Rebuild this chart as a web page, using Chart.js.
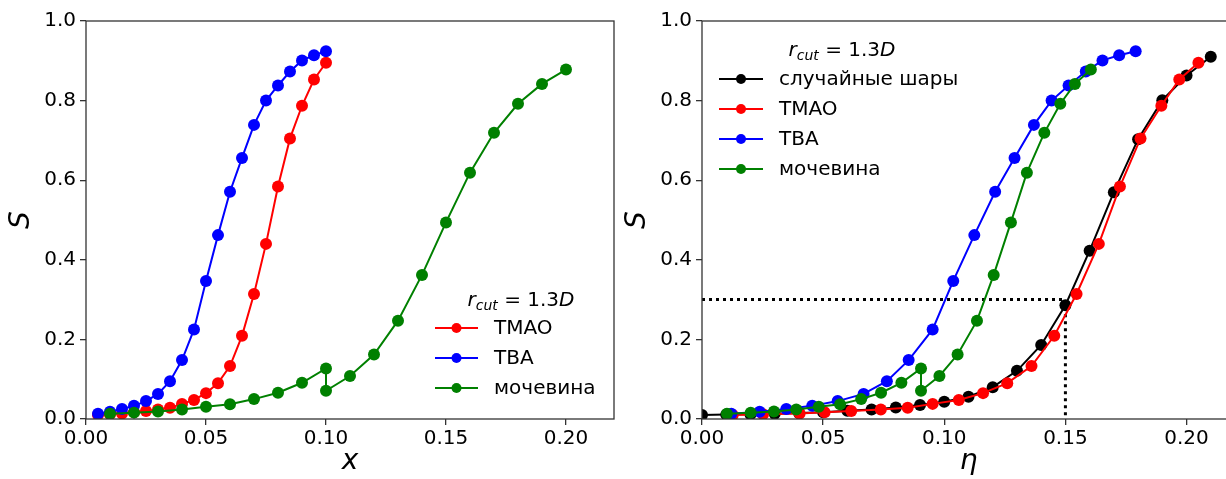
<!DOCTYPE html>
<html lang="ru">
<head>
<meta charset="UTF-8">
<script src="https://cdn.jsdelivr.net/npm/chart.js"></script>
<style>
  html, body { margin: 0; padding: 0; background: #fff; overflow: hidden; }
  body { width: 1226px; height: 479px; position: relative; }
  .panel { position: absolute; top: 0; height: 479px; }
  #leftPanel { left: 0; }
  #rightPanel { left: 616px; }
</style>
</head>
<body>
<div class="panel" id="leftPanel"><canvas id="leftChart" width="620" height="479"></canvas></div>
<div class="panel" id="rightPanel"><canvas id="rightChart" width="625" height="479"></canvas></div>

<script>
// axis ticks
const xTicks = [0, 0.05, 0.10, 0.15, 0.20];
const yTicks = [0, 0.2, 0.4, 0.6, 0.8, 1.0];

// S versus concentration x
const tmaoX = [0.005, 0.01, 0.015, 0.02, 0.025, 0.03, 0.035, 0.04, 0.045, 0.05,
               0.055, 0.06, 0.065, 0.07, 0.075, 0.08, 0.085, 0.09, 0.095, 0.10];
const tmaoS = [0.010, 0.012, 0.014, 0.017, 0.020, 0.024, 0.028, 0.038, 0.048, 0.065,
               0.090, 0.133, 0.209, 0.314, 0.440, 0.584, 0.705, 0.787, 0.853, 0.895];

const tbaX = [0.005, 0.01, 0.015, 0.02, 0.025, 0.03, 0.035, 0.04, 0.045, 0.05,
              0.055, 0.06, 0.065, 0.07, 0.075, 0.08, 0.085, 0.09, 0.095, 0.10];
const tbaS = [0.013, 0.018, 0.025, 0.033, 0.045, 0.063, 0.095, 0.148, 0.225, 0.347,
              0.462, 0.571, 0.656, 0.739, 0.800, 0.838, 0.873, 0.901, 0.914, 0.924];

const ureaX = [0.01, 0.02, 0.03, 0.04, 0.05, 0.06, 0.07, 0.08, 0.09, 0.10, 0.10,
               0.11, 0.12, 0.13, 0.14, 0.15, 0.16, 0.17, 0.18, 0.19, 0.20];
const ureaS = [0.013, 0.016, 0.019, 0.024, 0.031, 0.037, 0.050, 0.066, 0.091, 0.127, 0.071,
               0.108, 0.162, 0.247, 0.362, 0.494, 0.619, 0.719, 0.792, 0.842, 0.878];

// same S values against packing fraction eta
const tmaoEta = [0.0127, 0.0252, 0.0403, 0.0506, 0.0616, 0.0738, 0.0849, 0.0952, 0.106, 0.116,
                 0.126, 0.136, 0.1454, 0.1546, 0.1638, 0.1725, 0.181, 0.1896, 0.197, 0.2049];
const tbaEta = [0.0121, 0.0238, 0.0348, 0.0455, 0.056, 0.0667, 0.0763, 0.0853, 0.0952, 0.1037,
                0.1124, 0.121, 0.129, 0.137, 0.1443, 0.1513, 0.1584, 0.1653, 0.1722, 0.179];
const ureaEta = [0.0103, 0.0201, 0.0297, 0.0389, 0.0482, 0.057, 0.0657, 0.0739, 0.0823, 0.0904, 0.0904,
                 0.098, 0.1055, 0.1135, 0.1204, 0.1275, 0.1341, 0.1413, 0.1479, 0.1539, 0.1605];

// random spheres reference
const spheresEta = [0.00, 0.01, 0.02, 0.03, 0.04, 0.05, 0.06, 0.07, 0.08, 0.09, 0.10,
                    0.11, 0.12, 0.13, 0.14, 0.15, 0.16, 0.17, 0.18, 0.19, 0.20, 0.21];
const spheresS = [0.010, 0.011, 0.012, 0.013, 0.015, 0.017, 0.021, 0.024, 0.029, 0.035, 0.0435,
                  0.056, 0.080, 0.121, 0.186, 0.286, 0.423, 0.570, 0.703, 0.801, 0.863, 0.910];

// S = 0.3 guide
const guideEta = [0, 0.15, 0.15];
const guideS = [0.3, 0.3, 0];

const FONT = '"DejaVu Sans", sans-serif';
const SPINE = '#333';

function series(label, xs, ys, color, order) {
    return {
        label: label,
        data: xs.map((x, i) => ({ x: x, y: ys[i] })),
        borderColor: color,
        backgroundColor: color,
        pointBackgroundColor: color,
        pointBorderWidth: 0,
        pointRadius: 6,
        borderWidth: 2,
        tension: 0,
        order: order
    };
}

function scales(xTitle) {
    return {
        x: {
            type: 'linear', min: 0, max: 0.22,
            afterBuildTicks: s => { s.ticks = xTicks.map(v => ({ value: v })); },
            afterFit: s => { s.height = 60; },
            ticks: { callback: v => v.toFixed(2), color: '#000', font: { family: FONT, size: 20 },
                     padding: 2, maxRotation: 0, autoSkip: false },
            grid: { drawOnChartArea: false, tickLength: 6, color: SPINE, lineWidth: 1.3 },
            border: { display: false },
            title: { display: true, text: xTitle, color: '#000',
                     font: { family: FONT, size: 28, style: 'italic' }, padding: { top: 0, bottom: 0 } }
        },
        y: {
            type: 'linear', min: 0, max: 1,
            afterBuildTicks: s => { s.ticks = yTicks.map(v => ({ value: v })); },
            afterFit: s => { s.width = 86; },
            ticks: { callback: v => v.toFixed(1), color: '#000', font: { family: FONT, size: 20 }, padding: 4 },
            grid: { drawOnChartArea: false, tickLength: 6, color: SPINE, lineWidth: 1.3 },
            border: { display: false },
            title: { display: true, text: 'S', color: '#000',
                     font: { family: FONT, size: 28, style: 'italic' }, padding: { top: 5, bottom: 0 } }
        }
    };
}

// axes box
const framePlugin = {
    id: 'frame',
    afterDraw(chart) {
        const { ctx, chartArea: a } = chart;
        ctx.save();
        ctx.strokeStyle = SPINE;
        ctx.lineWidth = 1.3;
        ctx.strokeRect(a.left, a.top, a.right - a.left, a.bottom - a.top);
        ctx.restore();
    }
};

// legend with the r_cut title
const keyPlugin = {
    id: 'key',
    afterDraw(chart, args, o) {
        const ctx = chart.ctx;
        ctx.save();
        ctx.textBaseline = 'alphabetic';
        const parts = [
            { t: 'r', f: 'italic 20px ' + FONT, dy: 0 },
            { t: 'cut', f: 'italic 14px ' + FONT, dy: 4 },
            { t: ' = 1.3', f: '20px ' + FONT, dy: 0 },
            { t: 'D', f: 'italic 20px ' + FONT, dy: 0 }
        ];
        let w = 0;
        parts.forEach(p => { ctx.font = p.f; p.w = ctx.measureText(p.t).width; w += p.w; });
        let x = o.titleX - w / 2;
        ctx.fillStyle = '#000';
        parts.forEach(p => {
            ctx.font = p.f;
            ctx.fillText(p.t, x, o.titleY + 7 + p.dy);
            x += p.w;
        });

        ctx.font = '20px ' + FONT;
        ctx.textBaseline = 'middle';
        o.items.forEach((it, i) => {
            const y = o.rowY + i * o.rowStep;
            ctx.strokeStyle = it.color;
            ctx.lineWidth = 2;
            ctx.beginPath();
            ctx.moveTo(o.lineX0, y);
            ctx.lineTo(o.lineX1, y);
            ctx.stroke();
            ctx.fillStyle = it.color;
            ctx.beginPath();
            ctx.arc((o.lineX0 + o.lineX1) / 2, y, 5, 0, Math.PI * 2);
            ctx.fill();
            ctx.fillStyle = '#000';
            ctx.fillText(it.label, o.textX, y + 1);
        });
        ctx.restore();
    }
};

const baseOptions = {
    responsive: false,
    animation: false,
    events: [],
    plugins: { legend: { display: false }, tooltip: { enabled: false } }
};

new Chart(document.getElementById('leftChart'), {
    type: 'line',
    data: {
        datasets: [
            series('TMAO', tmaoX, tmaoS, '#ff0000', 3),
            series('TBA', tbaX, tbaS, '#0000ff', 2),
            series('мочевина', ureaX, ureaS, '#008000', 1)
        ]
    },
    options: Object.assign({}, baseOptions, {
        layout: { padding: { top: 21, right: 5, left: 0, bottom: 0 } },
        scales: scales('x'),
        plugins: Object.assign({}, baseOptions.plugins, {
            key: {
                titleX: 521, titleY: 299, rowY: 328, rowStep: 30,
                lineX0: 435, lineX1: 478, textX: 494,
                items: [
                    { label: 'TMAO', color: '#ff0000' },
                    { label: 'TBA', color: '#0000ff' },
                    { label: 'мочевина', color: '#008000' }
                ]
            }
        })
    }),
    plugins: [framePlugin, keyPlugin]
});

new Chart(document.getElementById('rightChart'), {
    type: 'line',
    data: {
        datasets: [
            {
                label: 'guide',
                data: guideEta.map((x, i) => ({ x: x, y: guideS[i] })),
                borderColor: '#000', borderWidth: 3, borderDash: [3, 4],
                pointRadius: 0, tension: 0, order: 5
            },
            series('случайные шары', spheresEta, spheresS, '#000000', 4),
            series('TMAO', tmaoEta, tmaoS, '#ff0000', 3),
            series('TBA', tbaEta, tbaS, '#0000ff', 2),
            series('мочевина', ureaEta, ureaS, '#008000', 1)
        ]
    },
    options: Object.assign({}, baseOptions, {
        layout: { padding: { top: 21, right: 5, left: 0, bottom: 0 } },
        scales: scales('η'),
        plugins: Object.assign({}, baseOptions.plugins, {
            key: {
                titleX: 226, titleY: 49, rowY: 79, rowStep: 30,
                lineX0: 103, lineX1: 147, textX: 163,
                items: [
                    { label: 'случайные шары', color: '#000000' },
                    { label: 'TMAO', color: '#ff0000' },
                    { label: 'TBA', color: '#0000ff' },
                    { label: 'мочевина', color: '#008000' }
                ]
            }
        })
    }),
    plugins: [framePlugin, keyPlugin]
});
</script>
</body>
</html>
